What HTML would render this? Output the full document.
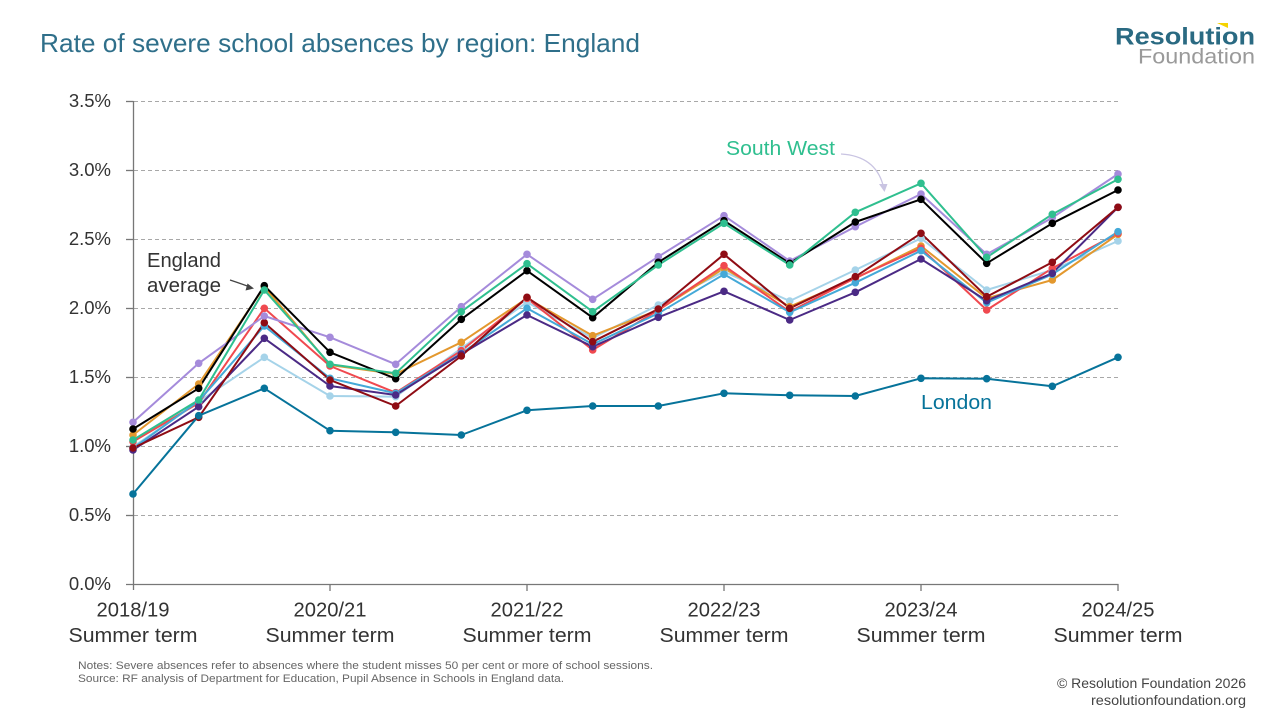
<!DOCTYPE html>
<html>
<head>
<meta charset="utf-8">
<style>
html,body{margin:0;padding:0;background:#fff;}
svg{display:block;}
text{font-family:"Liberation Sans",sans-serif;}
</style>
</head>
<body>
<svg width="1280" height="720" viewBox="0 0 1280 720" xmlns="http://www.w3.org/2000/svg">
<rect width="1280" height="720" fill="#fff"/>
<!-- Title -->
<text x="40" y="52" font-size="26" fill="#2f6f8a" textLength="600" lengthAdjust="spacingAndGlyphs">Rate of severe school absences by region: England</text>
<!-- Logo -->
<polygon points="1217,23 1228,23 1228,28" fill="#f5d300"/>
<text x="1115" y="44.5" font-size="24" font-weight="bold" fill="#2a6a82" textLength="140" lengthAdjust="spacingAndGlyphs">Resolution</text>
<text x="1138" y="63.5" font-size="21" fill="#9a9a9a" textLength="117" lengthAdjust="spacingAndGlyphs">Foundation</text>

<!-- Gridlines -->
<g stroke="#a8a8a8" stroke-width="1" stroke-dasharray="4,3">
<line x1="134" y1="101.5" x2="1118" y2="101.5"/>
<line x1="134" y1="170.5" x2="1118" y2="170.5"/>
<line x1="134" y1="239.5" x2="1118" y2="239.5"/>
<line x1="134" y1="308.5" x2="1118" y2="308.5"/>
<line x1="134" y1="377.5" x2="1118" y2="377.5"/>
<line x1="134" y1="446.5" x2="1118" y2="446.5"/>
<line x1="134" y1="515.5" x2="1118" y2="515.5"/>
</g>
<!-- Axes -->
<g stroke="#777" stroke-width="1.3">
<line x1="133.5" y1="101" x2="133.5" y2="590"/>
<line x1="126" y1="584.5" x2="1118.5" y2="584.5"/>
<line x1="126" y1="101.5" x2="133.5" y2="101.5"/>
<line x1="126" y1="170.5" x2="133.5" y2="170.5"/>
<line x1="126" y1="239.5" x2="133.5" y2="239.5"/>
<line x1="126" y1="308.5" x2="133.5" y2="308.5"/>
<line x1="126" y1="377.5" x2="133.5" y2="377.5"/>
<line x1="126" y1="446.5" x2="133.5" y2="446.5"/>
<line x1="126" y1="515.5" x2="133.5" y2="515.5"/>
<line x1="330" y1="584" x2="330" y2="591"/>
<line x1="527" y1="584" x2="527" y2="591"/>
<line x1="724" y1="584" x2="724" y2="591"/>
<line x1="921" y1="584" x2="921" y2="591"/>
<line x1="1118" y1="584" x2="1118" y2="591"/>
</g>
<!-- Y labels -->
<g font-size="18.5" fill="#333" text-anchor="end">
<text x="111" y="107">3.5%</text>
<text x="111" y="176">3.0%</text>
<text x="111" y="245">2.5%</text>
<text x="111" y="314">2.0%</text>
<text x="111" y="383">1.5%</text>
<text x="111" y="452">1.0%</text>
<text x="111" y="521">0.5%</text>
<text x="111" y="590">0.0%</text>
</g>
<!-- X labels -->
<g font-size="20" fill="#333" text-anchor="middle">
<text x="133" y="616.5" textLength="73" lengthAdjust="spacingAndGlyphs">2018/19</text>
<text x="330" y="616.5" textLength="73" lengthAdjust="spacingAndGlyphs">2020/21</text>
<text x="527" y="616.5" textLength="73" lengthAdjust="spacingAndGlyphs">2021/22</text>
<text x="724" y="616.5" textLength="73" lengthAdjust="spacingAndGlyphs">2022/23</text>
<text x="921" y="616.5" textLength="73" lengthAdjust="spacingAndGlyphs">2023/24</text>
<text x="1118" y="616.5" textLength="73" lengthAdjust="spacingAndGlyphs">2024/25</text>
<text x="133" y="642" textLength="129" lengthAdjust="spacingAndGlyphs">Summer term</text>
<text x="330" y="642" textLength="129" lengthAdjust="spacingAndGlyphs">Summer term</text>
<text x="527" y="642" textLength="129" lengthAdjust="spacingAndGlyphs">Summer term</text>
<text x="724" y="642" textLength="129" lengthAdjust="spacingAndGlyphs">Summer term</text>
<text x="921" y="642" textLength="129" lengthAdjust="spacingAndGlyphs">Summer term</text>
<text x="1118" y="642" textLength="129" lengthAdjust="spacingAndGlyphs">Summer term</text>
</g>

<!-- Series -->
<g fill="none" stroke-width="2" stroke-linejoin="round">
<polyline stroke="#a5d3e9" points="133,447 198.7,401.7 264.3,357.3 330,396 395.7,396.7 461.3,348.3 527,302.3 592.7,338 658.3,305 724,271.7 789.7,301 855.3,270 921,238.3 986.7,290 1052.3,270 1118,241"/>
<polyline stroke="#e3982e" points="133,435 198.7,384 264.3,286.7 330,365 395.7,374 461.3,342.3 527,298.3 592.7,335.7 658.3,310 724,268.3 789.7,306.7 855.3,278.3 921,246 986.7,298.3 1052.3,280 1118,234.3"/>
<polyline stroke="#f0494f" points="133,441.7 198.7,403 264.3,308.3 330,366 395.7,392.7 461.3,350.7 527,298.3 592.7,350 658.3,310 724,265.7 789.7,311.7 855.3,278 921,248.3 986.7,310 1052.3,268.3 1118,233.3"/>
<polyline stroke="#44a9d8" points="133,448.3 198.7,401 264.3,326 330,378.3 395.7,393.3 461.3,353.3 527,308.3 592.7,344.3 658.3,313.3 724,274.3 789.7,312.3 855.3,282.7 921,250.7 986.7,302.7 1052.3,274.3 1118,231.7"/>
<polyline stroke="#4b2a85" points="133,450 198.7,406.7 264.3,338.3 330,386 395.7,395 461.3,354 527,315 592.7,346.7 658.3,317.3 724,291.3 789.7,320 855.3,292.3 921,259 986.7,300.7 1052.3,273.3 1118,207.3"/>
<polyline stroke="#8f0c14" points="133,448 198.7,417.3 264.3,322.7 330,380 395.7,406 461.3,356 527,297.3 592.7,341.7 658.3,309 724,254.3 789.7,308.3 855.3,276.7 921,233.3 986.7,296.7 1052.3,262.3 1118,207.3"/>
<polyline stroke="#a58bdb" points="133,422.3 198.7,363.3 264.3,316 330,337.3 395.7,364.3 461.3,306.7 527,254.3 592.7,299.3 658.3,256.7 724,215.7 789.7,261 855.3,226.7 921,194 986.7,254.3 1052.3,217.7 1118,174"/>
<polyline stroke="#000" points="133,429 198.7,388.3 264.3,285.7 330,352.3 395.7,378.7 461.3,319.3 527,270.7 592.7,317.7 658.3,262.3 724,220.7 789.7,263.3 855.3,222 921,199.3 986.7,263.3 1052.3,223.3 1118,190"/>
<polyline stroke="#2fbf8f" points="133,440 198.7,400 264.3,290 330,364.3 395.7,373.3 461.3,311.7 527,263.7 592.7,311.7 658.3,265 724,223.3 789.7,265 855.3,212.3 921,183.3 986.7,257.3 1052.3,214.3 1118,179.3"/>
<polyline stroke="#06739a" points="133,494 198.7,415.7 264.3,388.3 330,430.7 395.7,432.3 461.3,435 527,410.3 592.7,406 658.3,406 724,393.3 789.7,395.3 855.3,396 921,378.3 986.7,378.7 1052.3,386.3 1118,357.3"/>
</g>
<!-- Markers -->
<g id="mk">
<g fill="#a5d3e9"><circle cx="133" cy="447" r="3.8"/><circle cx="198.7" cy="401.7" r="3.8"/><circle cx="264.3" cy="357.3" r="3.8"/><circle cx="330" cy="396" r="3.8"/><circle cx="395.7" cy="396.7" r="3.8"/><circle cx="461.3" cy="348.3" r="3.8"/><circle cx="527" cy="302.3" r="3.8"/><circle cx="592.7" cy="338" r="3.8"/><circle cx="658.3" cy="305" r="3.8"/><circle cx="724" cy="271.7" r="3.8"/><circle cx="789.7" cy="301" r="3.8"/><circle cx="855.3" cy="270" r="3.8"/><circle cx="921" cy="238.3" r="3.8"/><circle cx="986.7" cy="290" r="3.8"/><circle cx="1052.3" cy="270" r="3.8"/><circle cx="1118" cy="241" r="3.8"/></g>
<g fill="#e3982e"><circle cx="133" cy="435" r="3.8"/><circle cx="198.7" cy="384" r="3.8"/><circle cx="264.3" cy="286.7" r="3.8"/><circle cx="330" cy="365" r="3.8"/><circle cx="395.7" cy="374" r="3.8"/><circle cx="461.3" cy="342.3" r="3.8"/><circle cx="527" cy="298.3" r="3.8"/><circle cx="592.7" cy="335.7" r="3.8"/><circle cx="658.3" cy="310" r="3.8"/><circle cx="724" cy="268.3" r="3.8"/><circle cx="789.7" cy="306.7" r="3.8"/><circle cx="855.3" cy="278.3" r="3.8"/><circle cx="921" cy="246" r="3.8"/><circle cx="986.7" cy="298.3" r="3.8"/><circle cx="1052.3" cy="280" r="3.8"/><circle cx="1118" cy="234.3" r="3.8"/></g>
<g fill="#f0494f"><circle cx="133" cy="441.7" r="3.8"/><circle cx="198.7" cy="403" r="3.8"/><circle cx="264.3" cy="308.3" r="3.8"/><circle cx="330" cy="366" r="3.8"/><circle cx="395.7" cy="392.7" r="3.8"/><circle cx="461.3" cy="350.7" r="3.8"/><circle cx="527" cy="298.3" r="3.8"/><circle cx="592.7" cy="350" r="3.8"/><circle cx="658.3" cy="310" r="3.8"/><circle cx="724" cy="265.7" r="3.8"/><circle cx="789.7" cy="311.7" r="3.8"/><circle cx="855.3" cy="278" r="3.8"/><circle cx="921" cy="248.3" r="3.8"/><circle cx="986.7" cy="310" r="3.8"/><circle cx="1052.3" cy="268.3" r="3.8"/><circle cx="1118" cy="233.3" r="3.8"/></g>
<g fill="#44a9d8"><circle cx="133" cy="448.3" r="3.8"/><circle cx="198.7" cy="401" r="3.8"/><circle cx="264.3" cy="326" r="3.8"/><circle cx="330" cy="378.3" r="3.8"/><circle cx="395.7" cy="393.3" r="3.8"/><circle cx="461.3" cy="353.3" r="3.8"/><circle cx="527" cy="308.3" r="3.8"/><circle cx="592.7" cy="344.3" r="3.8"/><circle cx="658.3" cy="313.3" r="3.8"/><circle cx="724" cy="274.3" r="3.8"/><circle cx="789.7" cy="312.3" r="3.8"/><circle cx="855.3" cy="282.7" r="3.8"/><circle cx="921" cy="250.7" r="3.8"/><circle cx="986.7" cy="302.7" r="3.8"/><circle cx="1052.3" cy="274.3" r="3.8"/><circle cx="1118" cy="231.7" r="3.8"/></g>
<g fill="#4b2a85"><circle cx="133" cy="450" r="3.8"/><circle cx="198.7" cy="406.7" r="3.8"/><circle cx="264.3" cy="338.3" r="3.8"/><circle cx="330" cy="386" r="3.8"/><circle cx="395.7" cy="395" r="3.8"/><circle cx="461.3" cy="354" r="3.8"/><circle cx="527" cy="315" r="3.8"/><circle cx="592.7" cy="346.7" r="3.8"/><circle cx="658.3" cy="317.3" r="3.8"/><circle cx="724" cy="291.3" r="3.8"/><circle cx="789.7" cy="320" r="3.8"/><circle cx="855.3" cy="292.3" r="3.8"/><circle cx="921" cy="259" r="3.8"/><circle cx="986.7" cy="300.7" r="3.8"/><circle cx="1052.3" cy="273.3" r="3.8"/><circle cx="1118" cy="207.3" r="3.8"/></g>
<g fill="#8f0c14"><circle cx="133" cy="448" r="3.8"/><circle cx="198.7" cy="417.3" r="3.8"/><circle cx="264.3" cy="322.7" r="3.8"/><circle cx="330" cy="380" r="3.8"/><circle cx="395.7" cy="406" r="3.8"/><circle cx="461.3" cy="356" r="3.8"/><circle cx="527" cy="297.3" r="3.8"/><circle cx="592.7" cy="341.7" r="3.8"/><circle cx="658.3" cy="309" r="3.8"/><circle cx="724" cy="254.3" r="3.8"/><circle cx="789.7" cy="308.3" r="3.8"/><circle cx="855.3" cy="276.7" r="3.8"/><circle cx="921" cy="233.3" r="3.8"/><circle cx="986.7" cy="296.7" r="3.8"/><circle cx="1052.3" cy="262.3" r="3.8"/><circle cx="1118" cy="207.3" r="3.8"/></g>
<g fill="#a58bdb"><circle cx="133" cy="422.3" r="3.8"/><circle cx="198.7" cy="363.3" r="3.8"/><circle cx="264.3" cy="316" r="3.8"/><circle cx="330" cy="337.3" r="3.8"/><circle cx="395.7" cy="364.3" r="3.8"/><circle cx="461.3" cy="306.7" r="3.8"/><circle cx="527" cy="254.3" r="3.8"/><circle cx="592.7" cy="299.3" r="3.8"/><circle cx="658.3" cy="256.7" r="3.8"/><circle cx="724" cy="215.7" r="3.8"/><circle cx="789.7" cy="261" r="3.8"/><circle cx="855.3" cy="226.7" r="3.8"/><circle cx="921" cy="194" r="3.8"/><circle cx="986.7" cy="254.3" r="3.8"/><circle cx="1052.3" cy="217.7" r="3.8"/><circle cx="1118" cy="174" r="3.8"/></g>
<g fill="#000"><circle cx="133" cy="429" r="3.8"/><circle cx="198.7" cy="388.3" r="3.8"/><circle cx="264.3" cy="285.7" r="3.8"/><circle cx="330" cy="352.3" r="3.8"/><circle cx="395.7" cy="378.7" r="3.8"/><circle cx="461.3" cy="319.3" r="3.8"/><circle cx="527" cy="270.7" r="3.8"/><circle cx="592.7" cy="317.7" r="3.8"/><circle cx="658.3" cy="262.3" r="3.8"/><circle cx="724" cy="220.7" r="3.8"/><circle cx="789.7" cy="263.3" r="3.8"/><circle cx="855.3" cy="222" r="3.8"/><circle cx="921" cy="199.3" r="3.8"/><circle cx="986.7" cy="263.3" r="3.8"/><circle cx="1052.3" cy="223.3" r="3.8"/><circle cx="1118" cy="190" r="3.8"/></g>
<g fill="#2fbf8f"><circle cx="133" cy="440" r="3.8"/><circle cx="198.7" cy="400" r="3.8"/><circle cx="264.3" cy="290" r="3.8"/><circle cx="330" cy="364.3" r="3.8"/><circle cx="395.7" cy="373.3" r="3.8"/><circle cx="461.3" cy="311.7" r="3.8"/><circle cx="527" cy="263.7" r="3.8"/><circle cx="592.7" cy="311.7" r="3.8"/><circle cx="658.3" cy="265" r="3.8"/><circle cx="724" cy="223.3" r="3.8"/><circle cx="789.7" cy="265" r="3.8"/><circle cx="855.3" cy="212.3" r="3.8"/><circle cx="921" cy="183.3" r="3.8"/><circle cx="986.7" cy="257.3" r="3.8"/><circle cx="1052.3" cy="214.3" r="3.8"/><circle cx="1118" cy="179.3" r="3.8"/></g>
<g fill="#06739a"><circle cx="133" cy="494" r="3.8"/><circle cx="198.7" cy="415.7" r="3.8"/><circle cx="264.3" cy="388.3" r="3.8"/><circle cx="330" cy="430.7" r="3.8"/><circle cx="395.7" cy="432.3" r="3.8"/><circle cx="461.3" cy="435" r="3.8"/><circle cx="527" cy="410.3" r="3.8"/><circle cx="592.7" cy="406" r="3.8"/><circle cx="658.3" cy="406" r="3.8"/><circle cx="724" cy="393.3" r="3.8"/><circle cx="789.7" cy="395.3" r="3.8"/><circle cx="855.3" cy="396" r="3.8"/><circle cx="921" cy="378.3" r="3.8"/><circle cx="986.7" cy="378.7" r="3.8"/><circle cx="1052.3" cy="386.3" r="3.8"/><circle cx="1118" cy="357.3" r="3.8"/></g>
</g>

<!-- Annotations -->
<text x="147" y="267" font-size="20" fill="#333" textLength="74" lengthAdjust="spacingAndGlyphs">England</text>
<text x="147" y="292" font-size="20" fill="#333" textLength="74" lengthAdjust="spacingAndGlyphs">average</text>
<path d="M230,280 Q242,284 250,287" fill="none" stroke="#444" stroke-width="1.3"/>
<polygon points="254,288.5 245.5,290.5 247.5,283.5" fill="#444"/>

<text x="726" y="155" font-size="20" fill="#2fbf8f" textLength="109" lengthAdjust="spacingAndGlyphs">South West</text>
<path d="M841,154 Q875,156 883,185" fill="none" stroke="#c9c4e2" stroke-width="1.3"/>
<polygon points="884.5,192 879,184 887.5,184" fill="#c9c4e2"/>

<text x="921" y="409" font-size="20" fill="#06739a" textLength="71" lengthAdjust="spacingAndGlyphs">London</text>

<!-- Notes -->
<text x="78" y="669" font-size="11" fill="#666" textLength="575" lengthAdjust="spacingAndGlyphs">Notes: Severe absences refer to absences where the student misses 50 per cent or more of school sessions.</text>
<text x="78" y="682" font-size="11" fill="#666" textLength="486" lengthAdjust="spacingAndGlyphs">Source: RF analysis of Department for Education, Pupil Absence in Schools in England data.</text>

<!-- Footer -->
<text x="1246" y="688" font-size="13.5" fill="#444" text-anchor="end" textLength="189" lengthAdjust="spacingAndGlyphs">© Resolution Foundation 2026</text>
<text x="1246" y="705" font-size="13.5" fill="#444" text-anchor="end" textLength="155" lengthAdjust="spacingAndGlyphs">resolutionfoundation.org</text>
</svg>
</body>
</html>
